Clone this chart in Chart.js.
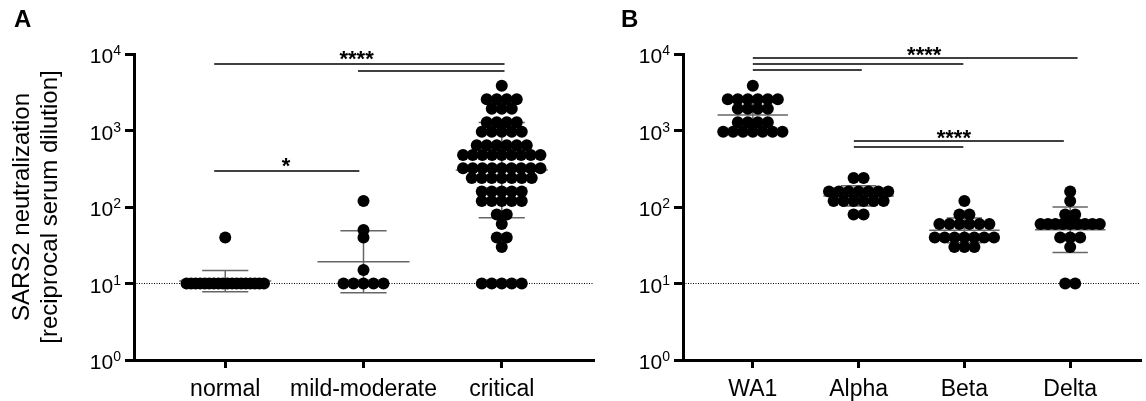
<!DOCTYPE html>
<html>
<head>
<meta charset="utf-8">
<script src="https://cdn.jsdelivr.net/npm/chart.js@4"></script>
<style>
  html, body { margin: 0; padding: 0; background: #fff; }
  #wrap { position: relative; width: 1146px; height: 401px; font-family: "Liberation Sans", Arial, sans-serif; }
  .panel { position: absolute; top: 0; height: 401px; }
  #boxA { left: 0; width: 600px; }
  #boxB { left: 600px; width: 546px; }
  .letter { position: absolute; font-weight: bold; font-size: 24px; line-height: 24px; color: #000; }
</style>
</head>
<body>
<div id="wrap">
  <div class="panel" id="boxA"><canvas id="chartA"></canvas></div>
  <div class="panel" id="boxB"><canvas id="chartB"></canvas></div>
  <div class="letter" style="left:14px; top:7px;">A</div>
  <div class="letter" style="left:621px; top:7px;">B</div>
</div>
<script>
"use strict";
const FONT = '"Liberation Sans", Arial, sans-serif';

// ---- data ----
const yPowers = [0, 1, 2, 3, 4];
const detectionLimit = 10;
const yTitle = ["SARS2 neutralization", "[reciprocal serum dilution]"];

const groupsA = ["normal", "mild-moderate", "critical"];
const normal = [40, 10, 10, 10, 10, 10, 10, 10, 10, 10, 10, 10, 10, 10, 10, 10, 10, 10, 10];
const mildModerate = [120, 50, 40, 15, 10, 10, 10, 10, 10];
const critical = [
  3840,
  2560, 2560, 2560, 2560,
  1920, 1920, 1920,
  1280, 1280, 1280, 1280,
  960, 960, 960, 960, 960,
  640, 640, 640, 640, 640, 640,
  480, 480, 480, 480, 480, 480, 480, 480, 480,
  320, 320, 320, 320, 320, 320, 320, 320, 320,
  240, 240, 240, 240, 240, 240, 240,
  160, 160, 160, 160, 160,
  120, 120, 120, 120, 120,
  80, 80,
  60,
  40, 40,
  30,
  10, 10, 10, 10, 10
];

const groupsB = ["WA1", "Alpha", "Beta", "Delta"];
const wa1 = [3840, 2560, 2560, 2560, 2560, 2560, 2560, 1920, 1920, 1920, 1920,
  1280, 1280, 1280, 1280, 960, 960, 960, 960, 960, 960, 960];
const alpha = [240, 240, 160, 160, 160, 160, 160, 160, 160, 120, 120, 120, 120, 120, 120, 80, 80];
const beta = [120, 80, 80, 60, 60, 60, 60, 60, 60, 40, 40, 40, 40, 40, 40, 40, 30, 30, 30];
const delta = [160, 120, 80, 80, 60, 60, 60, 60, 60, 60, 60, 60, 60, 40, 40, 40, 30, 10, 10];

// significance bars: [from category, to category, y value]
const barsA = [[-0.08, 2.02, 7400], [0.96, 2.02, 6000], [-0.08, 0.97, 296]];
const starsA = [["****", 0.95, 10300], ["*", 0.44, 411]];
const barsB = [[0, 3.07, 8870], [0, 1.99, 7400], [0, 1.03, 6170], [0.955, 2.94, 729], [0.955, 1.99, 609]];
const starsB = [["****", 1.62, 11600], ["****", 1.90, 955]];

// ---- helpers ----
const dotGap = 10;     // px between neighbouring dots of one row
const maxSpan = 0.56;  // widest row, in category units

function swarm(vals, idx, pxPerUnit) {
  const counts = {}, seen = {};
  vals.forEach(v => { counts[v] = (counts[v] || 0) + 1; });
  return vals.map(v => {
    const n = counts[v];
    const k = seen[v] = (seen[v] || 0);
    seen[v]++;
    let step = dotGap / pxPerUnit;
    if (n > 1) step = Math.min(step, maxSpan / (n - 1));
    return { x: idx + (k - (n - 1) / 2) * step, y: v };
  });
}

function geoStats(vals) {
  const logs = vals.map(v => Math.log10(v));
  const m = logs.reduce((a, b) => a + b, 0) / logs.length;
  const sd = Math.sqrt(logs.reduce((a, b) => a + (b - m) * (b - m), 0) / (logs.length - 1));
  return { mean: Math.pow(10, m), hi: Math.pow(10, m + sd), lo: Math.pow(10, m - sd) };
}

function line(ctx, x1, y1, x2, y2) {
  ctx.beginPath();
  ctx.moveTo(x1, y1);
  ctx.lineTo(x2, y2);
  ctx.stroke();
}

function makePanel(canvasId, cats, groups, bars, stars, yWidth, padRight, showTitle) {
  const overlay = {
    id: "overlay" + canvasId,
    beforeDatasetsDraw(chart) {
      const { ctx, chartArea, scales: { x, y } } = chart;
      ctx.save();
      // detection limit
      ctx.strokeStyle = "#000";
      ctx.lineWidth = 1;
      ctx.setLineDash([1, 1.5]);
      const yl = y.getPixelForValue(detectionLimit);
      line(ctx, chartArea.left, yl, chartArea.right, yl);
      ctx.setLineDash([]);
      // geometric mean +/- SD
      ctx.strokeStyle = "#666";
      ctx.lineWidth = 1.5;
      groups.forEach((vals, i) => {
        const s = geoStats(vals);
        const ym = y.getPixelForValue(s.mean), yh = y.getPixelForValue(s.hi), ylo = y.getPixelForValue(s.lo);
        line(ctx, x.getPixelForValue(i - 0.333), ym, x.getPixelForValue(i + 0.333), ym);
        line(ctx, x.getPixelForValue(i - 0.167), yh, x.getPixelForValue(i + 0.167), yh);
        line(ctx, x.getPixelForValue(i - 0.167), ylo, x.getPixelForValue(i + 0.167), ylo);
        line(ctx, x.getPixelForValue(i), yh, x.getPixelForValue(i), ylo);
      });
      ctx.restore();
    },
    afterDraw(chart) {
      const { ctx, scales: { x, y } } = chart;
      ctx.save();
      ctx.fillStyle = "#000";
      // y tick labels with superscript exponents
      yPowers.forEach(p => {
        const py = y.getPixelForValue(Math.pow(10, p));
        const xr = y.right - 13;
        ctx.textAlign = "right";
        ctx.textBaseline = "alphabetic";
        ctx.font = "14px " + FONT;
        const sw = ctx.measureText(String(p)).width;
        ctx.fillText(String(p), xr, py + 1);
        ctx.font = "21px " + FONT;
        ctx.fillText("10", xr - sw, py + 9);
      });
      // significance bars
      ctx.strokeStyle = "#000";
      ctx.lineWidth = 1.5;
      bars.forEach(b => {
        const py = y.getPixelForValue(b[2]);
        line(ctx, x.getPixelForValue(b[0]), py, x.getPixelForValue(b[1]), py);
      });
      ctx.font = "bold 22px " + FONT;
      ctx.textAlign = "center";
      ctx.textBaseline = "alphabetic";
      stars.forEach(s => {
        ctx.fillText(s[0], x.getPixelForValue(s[1]), y.getPixelForValue(s[2]) + 0.57 * 22);
      });
      ctx.restore();
    }
  };

  const datasets = groups.map((vals, i) => ({
    data: vals.map(v => ({ x: i, y: v })),
    backgroundColor: "#000",
    borderWidth: 0,
    pointRadius: 6,
    pointHoverRadius: 6,
    clip: false
  }));

  const axisGrid = { drawOnChartArea: false, drawTicks: true, color: "#000", lineWidth: 3 };

  const chart = new Chart(document.getElementById(canvasId), {
    type: "scatter",
    data: { datasets },
    options: {
      responsive: true,
      maintainAspectRatio: false,
      animation: false,
      layout: { padding: { top: 54, right: padRight, bottom: 0, left: 0 } },
      plugins: { legend: { display: false }, tooltip: { enabled: false } },
      scales: {
        x: {
          type: "linear",
          min: -0.66,
          max: cats.length - 0.34,
          afterBuildTicks: s => { s.ticks = cats.map((c, i) => ({ value: i })); },
          ticks: {
            callback: v => cats[v] !== undefined ? cats[v] : "",
            color: "#000",
            font: { family: FONT, size: 23 },
            padding: 8,
            maxRotation: 0,
            autoSkip: false
          },
          grid: Object.assign({ tickLength: 8 }, axisGrid),
          border: { color: "#000", width: 3 },
          afterFit: s => { s.height = 41; }
        },
        y: {
          type: "logarithmic",
          min: 1,
          max: 10000,
          afterBuildTicks: s => { s.ticks = yPowers.map(p => ({ value: Math.pow(10, p) })); },
          ticks: { callback: () => "" },
          grid: Object.assign({ tickLength: 9 }, axisGrid),
          border: { color: "#000", width: 3 },
          title: {
            display: showTitle,
            text: yTitle,
            color: "#000",
            font: { family: FONT, size: 24, lineHeight: 1.17 },
            padding: { top: 8, bottom: 0 }
          },
          afterFit: s => { s.width = yWidth; }
        }
      }
    },
    plugins: [overlay]
  });

  const xs = chart.scales.x;
  const ppu = xs.getPixelForValue(1) - xs.getPixelForValue(0);
  chart.data.datasets.forEach((ds, i) => { ds.data = swarm(groups[i], i, ppu); });
  chart.update("none");
  return chart;
}

makePanel("chartA", groupsA, [normal, mildModerate, critical], barsA, starsA, 134, 7, true);
makePanel("chartB", groupsB, [wa1, alpha, beta, delta], barsB, starsB, 83, 3, false);
</script>
</body>
</html>
